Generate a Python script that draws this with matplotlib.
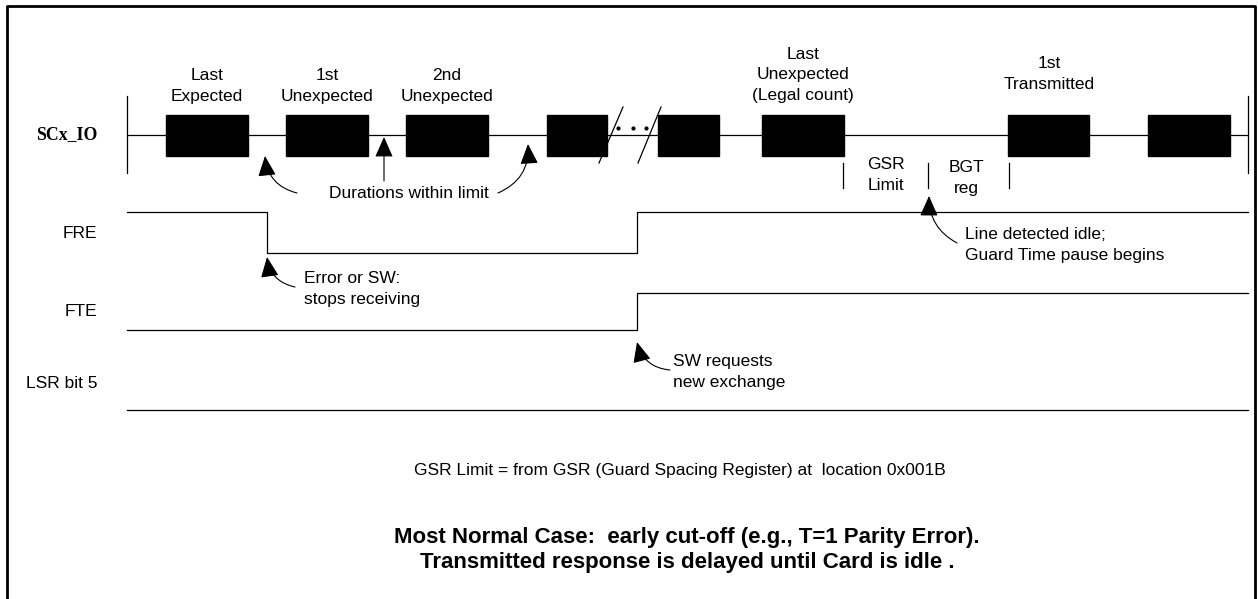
import matplotlib
matplotlib.use("Agg")
import matplotlib.pyplot as plt
from matplotlib.patches import Rectangle, FancyArrowPatch

plt.rcParams['font.family'] = ['Liberation Sans', 'DejaVu Sans']

# canvas in pixel units (y grows downward)
W, H = 1258, 599

# SCx_IO line: character boxes (start, end)
io_y = 135
box_h = 41
io_span = [127, 1248]
box_start = [166, 286, 406, 547, 658, 762, 1008, 1148]
box_end = [248, 368, 488, 607, 719, 844, 1089, 1230]

# labels above boxes
top_labels = ["Last\nExpected", "1st\nUnexpected", "2nd\nUnexpected",
              "Last\nUnexpected\n(Legal count)", "1st\nTransmitted"]
top_label_x = [207, 327, 447, 803, 1049]
top_label_y = [86, 86, 86, 75, 74]

# FRE / FTE / LSR waveforms
fre_x = [127, 267, 267, 637, 637, 1248]
fre_y = [212, 212, 253, 253, 212, 212]
fte_x = [127, 637, 637, 1248]
fte_y = [330, 330, 293, 293]
lsr_x = [127, 1248]
lsr_y = [410, 410]

signal_names = ["SCx_IO", "FRE", "FTE", "LSR bit 5"]
signal_name_y = [135, 233, 312, 383]

# small timing ticks under the IO line
tick_x = [843, 928, 1009]

# arrows: tail, tip, curvature
arrow_tail = [(297, 193), (384, 181), (498, 193), (957, 243), (295, 287), (670, 370)]
arrow_tip = [(265, 156), (384, 137), (528, 144), (929, 196), (267, 257), (637, 342)]
arrow_rad = [-0.35, 0.0, 0.35, -0.3, -0.35, -0.35]

fig = plt.figure(figsize=(W / 100, H / 100), dpi=100)
ax = fig.add_axes([0, 0, 1, 1])
ax.set_xlim(0, W)
ax.set_ylim(H, 0)
ax.axis('off')

lw = 0.9
# frame (open at bottom)
ax.plot([7, 7, 1255, 1255], [599, 6, 6, 599], color='black', lw=2.0, solid_capstyle='butt')

# IO line + end bars
ax.plot(io_span, [io_y, io_y], color='black', lw=lw)
for xe in io_span:
    ax.plot([xe, xe], [96, 173], color='black', lw=lw)
for x0, x1 in zip(box_start, box_end):
    ax.add_patch(Rectangle((x0, io_y - box_h / 2), x1 - x0, box_h, color='black', zorder=3))

# break marks
ax.plot([599, 623], [163, 107], color='black', lw=lw, zorder=4)
ax.plot([638, 661], [163, 107], color='black', lw=lw, zorder=4)
ax.plot([618, 633, 646], [128, 128, 128], ls='none', marker='o', ms=2.0, color='black')

for tx in tick_x:
    ax.plot([tx, tx], [163, 188], color='black', lw=lw)

ax.plot(fre_x, fre_y, color='black', lw=lw)
ax.plot(fte_x, fte_y, color='black', lw=lw)
ax.plot(lsr_x, lsr_y, color='black', lw=lw)

for t, s, r in zip(arrow_tail, arrow_tip, arrow_rad):
    a = FancyArrowPatch(t, s, connectionstyle=f"arc3,rad={r}",
                        arrowstyle="-|>,head_length=0.9,head_width=0.4",
                        mutation_scale=14, color='black', lw=0.8, shrinkA=0, shrinkB=0)
    ax.add_patch(a)

fs = 12.5
ls = 1.42
for lab, x, y in zip(top_labels, top_label_x, top_label_y):
    ax.text(x, y, lab, ha='center', va='center', fontsize=fs, linespacing=ls)

for name, y in zip(signal_names, signal_name_y):
    if name == "SCx_IO":
        ax.text(97, y, name, ha='right', va='center', fontsize=12.8,
                family='Liberation Serif', weight='bold')
    else:
        ax.text(97, y, name, ha='right', va='center', fontsize=fs)

ax.text(886, 175, "GSR\nLimit", ha='center', va='center', fontsize=fs, linespacing=ls)
ax.text(966, 178, "BGT\nreg", ha='center', va='center', fontsize=fs, linespacing=ls)
ax.text(409, 193, "Durations within limit", ha='center', va='center', fontsize=fs)
ax.text(304, 289, "Error or SW:\nstops receiving", ha='left', va='center', fontsize=fs, linespacing=ls)
ax.text(965, 245, "Line detected idle;\nGuard Time pause begins", ha='left', va='center',
        fontsize=fs, linespacing=ls)
ax.text(673, 372, "SW requests\nnew exchange", ha='left', va='center', fontsize=fs, linespacing=ls)

ax.text(680, 470, "GSR Limit = from GSR (Guard Spacing Register) at  location 0x001B",
        ha='center', va='center', fontsize=12.5)
ax.text(687, 550, "Most Normal Case:  early cut-off (e.g., T=1 Parity Error).\n"
        "Transmitted response is delayed until Card is idle .",
        ha='center', va='center', fontsize=16, weight='bold', linespacing=1.25)

fig.savefig("out.png", dpi=100)
